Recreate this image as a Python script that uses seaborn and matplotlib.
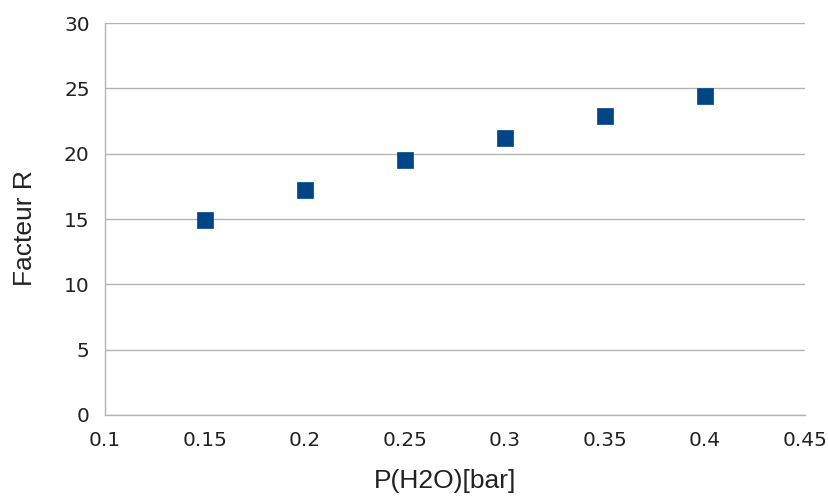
import numpy as np
import pandas as pd
import matplotlib
matplotlib.use("Agg")
import matplotlib.pyplot as plt
import seaborn as sns

# values
p_h2o = [0.15, 0.20, 0.25, 0.30, 0.35, 0.40]
facteur_r = [14.9, 17.2, 19.5, 21.2, 22.9, 24.4]

x_ticks = [0.1, 0.15, 0.2, 0.25, 0.3, 0.35, 0.4, 0.45]
x_ticklabels = ["0.1", "0.15", "0.2", "0.25", "0.3", "0.35", "0.4", "0.45"]
y_ticks = [0, 5, 10, 15, 20, 25, 30]

sns.set_style("white")
plt.rcParams['font.family'] = ['Liberation Sans', 'DejaVu Sans']

df = pd.DataFrame({"P(H2O)[bar]": p_h2o, "Facteur R": facteur_r})

fig = plt.figure(figsize=(8.29, 4.97), dpi=100)
ax = fig.add_axes([105 / 829, 1 - 415 / 497, 700 / 829, 392 / 497])

grid_col = "#b3b3b3"
ax.set_axisbelow(True)
ax.yaxis.grid(True, color=grid_col, linewidth=1)
ax.xaxis.grid(False)

sns.scatterplot(data=df, x="P(H2O)[bar]", y="Facteur R", marker="s", s=125,
                color="#004586", edgecolor="#004586", linewidth=0.5, ax=ax, zorder=3)

ax.set_xlim(0.1, 0.45)
ax.set_ylim(0, 30)
ax.set_xticks(x_ticks)
ax.set_xticklabels(x_ticklabels)
ax.set_yticks(y_ticks)

for side in ["top", "right"]:
    ax.spines[side].set_visible(False)
for side in ["left", "bottom"]:
    ax.spines[side].set_color(grid_col)
    ax.spines[side].set_linewidth(1)

ax.tick_params(axis="both", which="major", direction="out", length=6.5, width=1,
               color=grid_col, labelsize=14.5, labelcolor="#222222")
ax.tick_params(axis="x", pad=5)
ax.tick_params(axis="y", pad=4.5)
# the reference tick numbers are wide; DejaVu Sans matches their size better
for lab in ax.get_xticklabels() + ax.get_yticklabels():
    lab.set_fontfamily("DejaVu Sans")

ax.set_xlabel("P(H2O)[bar]", fontsize=19, color="#222222")
ax.set_ylabel("Facteur R", fontsize=19, color="#222222")
ax.xaxis.set_label_coords(0.486, -0.137)
ax.yaxis.set_label_coords(-0.097, 0.478)

fig.savefig("out.png", dpi=100)
